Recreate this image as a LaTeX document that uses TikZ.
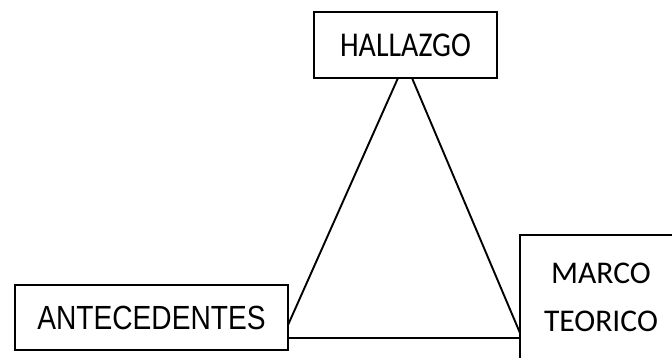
\documentclass[tikz,border=0pt]{standalone}
\usepackage{fontspec}
\newfontfamily\calibfont{Carlito}
\newfontfamily\calibnarrow[FakeStretch=0.86]{Carlito}
\newfontfamily\arialnarrow[FakeStretch=0.84]{Liberation Sans}
\begin{document}
\begin{tikzpicture}[x=1pt,y=-1pt,
  box/.style={draw=black,line width=2.1pt,inner sep=0pt,anchor=center},
  link/.style={draw=black,line width=1.9pt}]
\useasboundingbox (0,0) rectangle (672,358);
\clip (0,0) rectangle (672,358);
\node[box,minimum width=183pt,minimum height=66pt,font=\calibnarrow\fontsize{34.8}{40}\selectfont] (hal) at (405.5,45) {HALLAZGO};
\node[box,minimum width=273pt,minimum height=65pt,font=\arialnarrow\fontsize{33.5}{40}\selectfont] (ant) at (151.5,317.5) {ANTECEDENTES};
\node[box,minimum width=162pt,minimum height=124pt,align=center,font=\calibfont\fontsize{31.6}{48}\selectfont] (mar) at (601,297) {MARCO\\TEORICO};
\coordinate (h1) at (398,78);
\coordinate (h2) at (412,78);
\coordinate (a1) at (288,325);
\coordinate (a2) at (288,338);
\coordinate (m1) at (520,333);
\coordinate (m2) at (520,338);
\draw[link] (h1) -- (a1);
\draw[link] (h2) -- (m1);
\draw[link] (a2) -- (m2);
\end{tikzpicture}
\end{document}
